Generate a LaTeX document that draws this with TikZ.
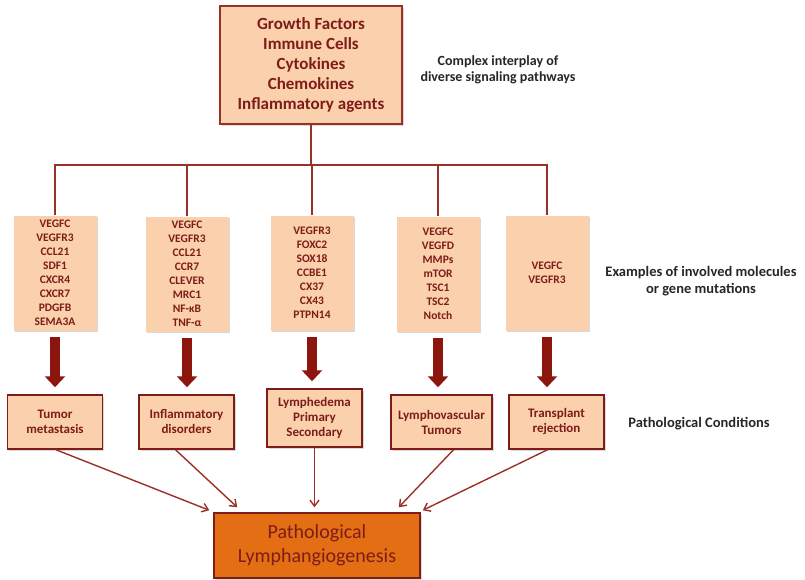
\documentclass[tikz,border=0pt]{standalone}
\usepackage{fontspec}
\setmainfont{Carlito}
\usetikzlibrary{arrows.meta,shadows}
\definecolor{peach}{RGB}{251,208,172}
\definecolor{darkred}{RGB}{125,28,24}
\definecolor{linered}{RGB}{155,48,40}
\definecolor{arrowred}{RGB}{140,22,14}
\definecolor{deeporange}{RGB}{228,110,20}

\begin{document}
\begin{tikzpicture}[x=1pt, y=-1pt,
  every node/.style={align=center},
  box/.style={fill=peach, drop shadow={shadow xshift=1.5pt, shadow yshift=-1.5pt, opacity=0.3}, text=darkred},
  mol/.style={box, minimum width=83pt, minimum height=115pt, font=\bfseries\fontsize{11.5}{14}\selectfont},
  cond/.style={box, draw=darkred, line width=1.5pt, minimum width=95pt, minimum height=54pt, font=\bfseries\fontsize{13}{15}\selectfont},
  note/.style={font=\bfseries\fontsize{14.5}{17}\selectfont, text=black!85},
  bigarrow/.style={-{Triangle[length=11pt,width=20pt]}, line width=10pt, draw=arrowred, shorten <=6pt, shorten >=7pt},
  thinarrow/.style={-{Straight Barb[length=6pt,width=9pt]}, line width=1.4pt, draw=linered}]

\useasboundingbox (0,0) rectangle (805,579);

\node (sources) [box, draw=linered, line width=2pt, minimum width=182pt, minimum height=118pt, font=\bfseries\fontsize{17}{20}\selectfont] at (311,65) {Growth Factors\\Immune Cells\\Cytokines\\Chemokines\\Inflammatory agents};
\node (interplay) [note, font=\bfseries\fontsize{14}{16}\selectfont] at (498,70) {Complex interplay of\\diverse signaling pathways};

% molecules
\node (mol1) [mol] at (55,273) {VEGFC\\VEGFR3\\CCL21\\SDF1\\CXCR4\\CXCR7\\PDGFB\\SEMA3A};
\node (mol2) [mol] at (187,274) {VEGFC\\VEGFR3\\CCL21\\CCR7\\CLEVER\\MRC1\\NF-κB\\TNF-α};
\node (mol3) [mol] at (312,273) {VEGFR3\\FOXC2\\SOX18\\CCBE1\\CX37\\CX43\\PTPN14};
\node (mol4) [mol] at (438,274) {VEGFC\\VEGFD\\MMPs\\mTOR\\TSC1\\TSC2\\Notch};
\node (mol5) [mol] at (547,273) {VEGFC\\VEGFR3};
\node (examples) [note] at (701,281) {Examples of involved molecules\\or gene mutations};

\coordinate (bus) at (311,165);
\draw[linered, line width=2pt] (sources.south) -- (bus);
\foreach \i in {1,...,5} \draw[linered, line width=2pt] (mol\i.north) |- (bus);

% conditions
\node (cond1) [cond] at (55,422) {Tumor\\metastasis};
\node (cond2) [cond] at (186.5,422) {Inflammatory\\disorders};
\node (cond3) [cond, minimum height=58pt] at (314.5,418) {Lymphedema\\Primary\\Secondary};
\node (cond4) [cond, minimum width=101pt] at (441.5,422) {Lymphovascular\\Tumors};
\node (cond5) [cond] at (556.5,422) {Transplant\\rejection};
\node (conditions) [note] at (699,424) {Pathological Conditions};

\foreach \i in {1,...,5} \draw[bigarrow] (mol\i.south) -- (mol\i.south |- cond\i.north);

\node (final) [box, fill=deeporange, draw=darkred, line width=1.5pt, minimum width=206pt, minimum height=65pt, font=\fontsize{20}{24}\selectfont] at (317,545.5) {Pathological\\Lymphangiogenesis};

\draw[thinarrow] ([xshift=1pt]cond1.south) -- ([xshift=-4pt,yshift=2pt]final.north west);
\draw[thinarrow] ([xshift=-11pt]cond2.south) -- ([xshift=24pt,yshift=5pt]final.north west);
\draw[thinarrow] (cond3.south) -- ([yshift=5pt]cond3.south |- final.north);
\draw[thinarrow] ([xshift=12pt]cond4.south) -- ([xshift=-22pt,yshift=5pt]final.north east);
\draw[thinarrow] ([xshift=-9pt]cond5.south) -- ([xshift=2pt,yshift=2pt]final.north east);
\end{tikzpicture}
\end{document}
